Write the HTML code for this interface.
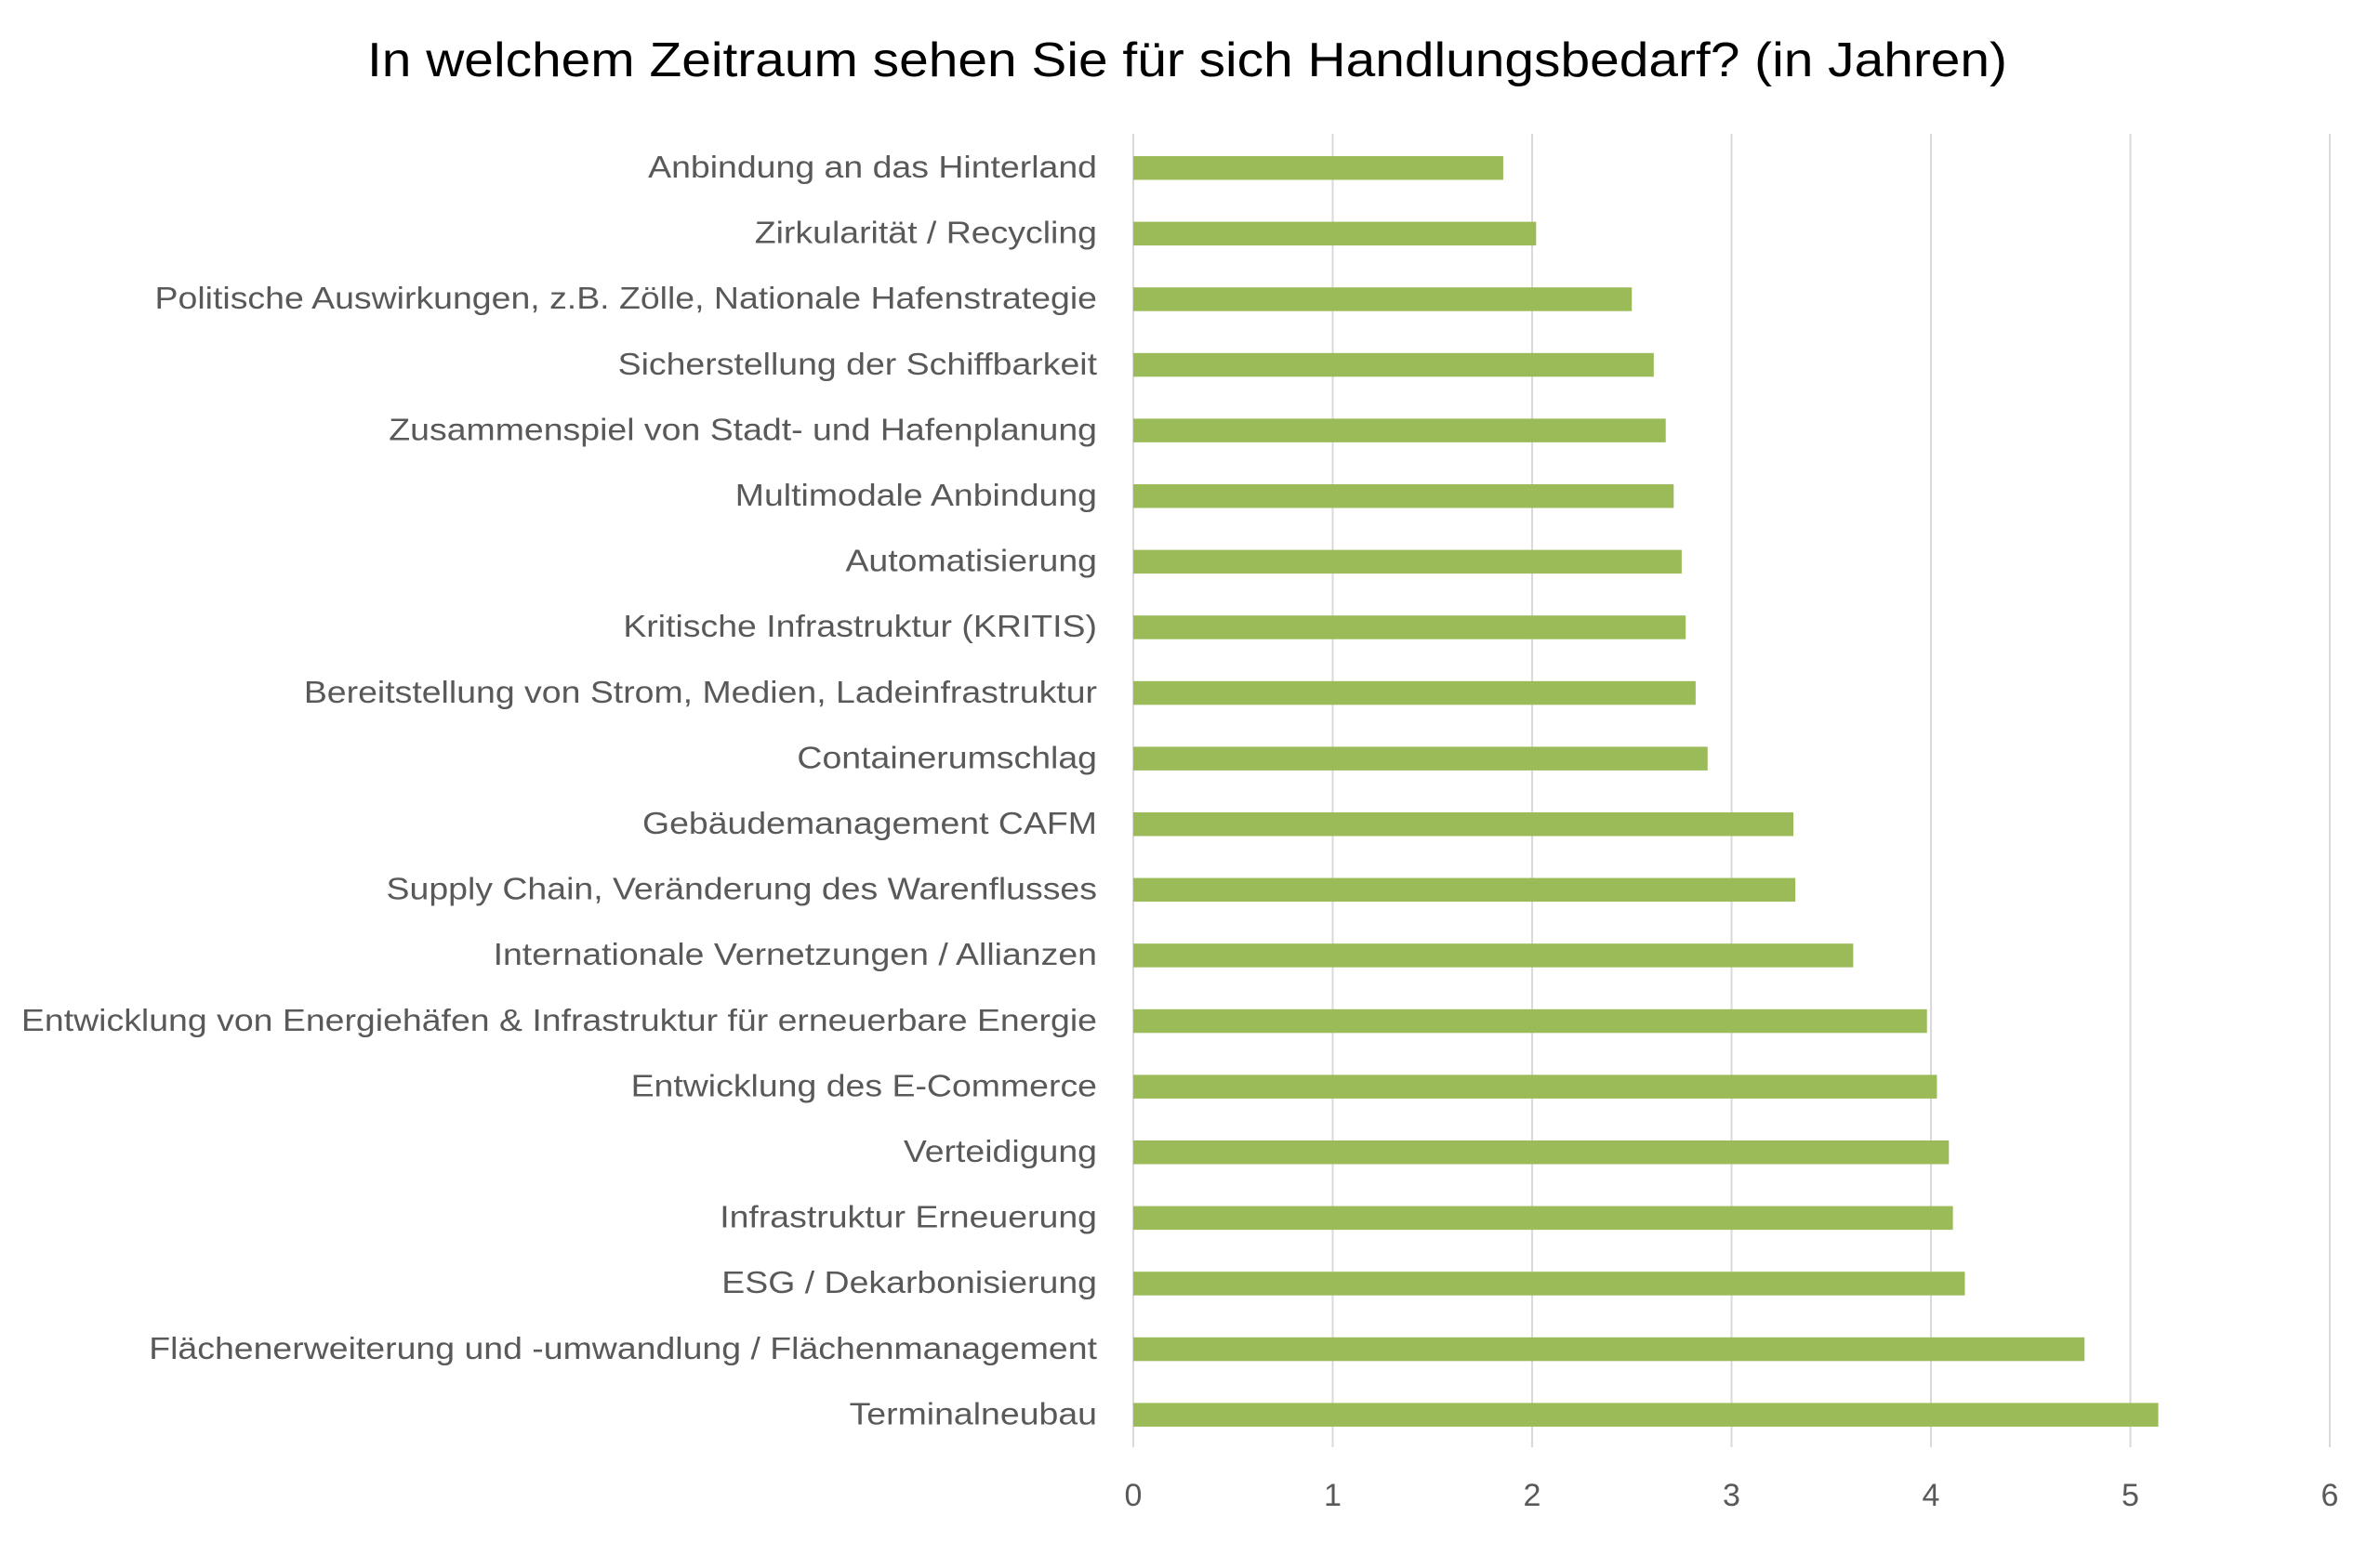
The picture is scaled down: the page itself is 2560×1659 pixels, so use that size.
<!DOCTYPE html>
<html><head><meta charset="utf-8"><style>
html,body{margin:0;padding:0;background:#fff;}
svg{display:block;}
text{font-family:"Liberation Sans",sans-serif;}
</style></head><body>
<svg width="2560" height="1659" viewBox="0 0 2560 1659" xmlns="http://www.w3.org/2000/svg">
<rect width="2560" height="1659" fill="#fff"/>
<text x="1277" y="82" font-size="52" fill="#000" text-anchor="middle" textLength="1764" lengthAdjust="spacingAndGlyphs">In welchem Zeitraum sehen Sie für sich Handlungsbedarf? (in Jahren)</text>
<g stroke="#d9d9d9" stroke-width="2">
<line x1="1219" y1="144" x2="1219" y2="1557"/>
<line x1="1433.5" y1="144" x2="1433.5" y2="1557"/>
<line x1="1648" y1="144" x2="1648" y2="1557"/>
<line x1="1862.5" y1="144" x2="1862.5" y2="1557"/>
<line x1="2077" y1="144" x2="2077" y2="1557"/>
<line x1="2291.5" y1="144" x2="2291.5" y2="1557"/>
<line x1="2506" y1="144" x2="2506" y2="1557"/>
</g>
<g font-size="34" fill="#595959" text-anchor="middle">
<text x="1219" y="1620">0</text><text x="1433.5" y="1620">1</text><text x="1648" y="1620">2</text><text x="1862.5" y="1620">3</text><text x="2077" y="1620">4</text><text x="2291.5" y="1620">5</text><text x="2506" y="1620">6</text>
</g>
<g id="bars" fill="#9bbb59"></g>
<g id="labels" font-size="33" fill="#595959" text-anchor="end" transform="scale(1.135,1)"></g>
<script>
var d=[["Anbindung an das Hinterland",1.855],["Zirkularität / Recycling",2.02],["Politische Auswirkungen, z.B. Zölle, Nationale Hafenstrategie",2.50],["Sicherstellung der Schiffbarkeit",2.61],["Zusammenspiel von Stadt- und Hafenplanung",2.67],["Multimodale Anbindung",2.71],["Automatisierung",2.75],["Kritische Infrastruktur (KRITIS)",2.77],["Bereitstellung von Strom, Medien, Ladeinfrastruktur",2.82],["Containerumschlag",2.88],["Gebäudemanagement CAFM",3.31],["Supply Chain, Veränderung des Warenflusses",3.32],["Internationale Vernetzungen / Allianzen",3.61],["Entwicklung von Energiehäfen & Infrastruktur für erneuerbare Energie",3.98],["Entwicklung des E-Commerce",4.03],["Verteidigung",4.09],["Infrastruktur Erneuerung",4.11],["ESG / Dekarbonisierung",4.17],["Flächenerweiterung und -umwandlung / Flächenmanagement",4.77],["Terminalneubau",5.14]];
var ns="http://www.w3.org/2000/svg",b=document.getElementById("bars"),l=document.getElementById("labels");
d.forEach(function(r,i){var y=168+i*70.6;var rc=document.createElementNS(ns,"rect");rc.setAttribute("x",1219);rc.setAttribute("y",y);rc.setAttribute("width",r[1]*214.5);rc.setAttribute("height",25.5);b.appendChild(rc);
var t=document.createElementNS(ns,"text");t.setAttribute("x",1180/1.135);t.setAttribute("y",y+23);t.textContent=r[0];l.appendChild(t);});
</script>
</svg>
</body></html>
